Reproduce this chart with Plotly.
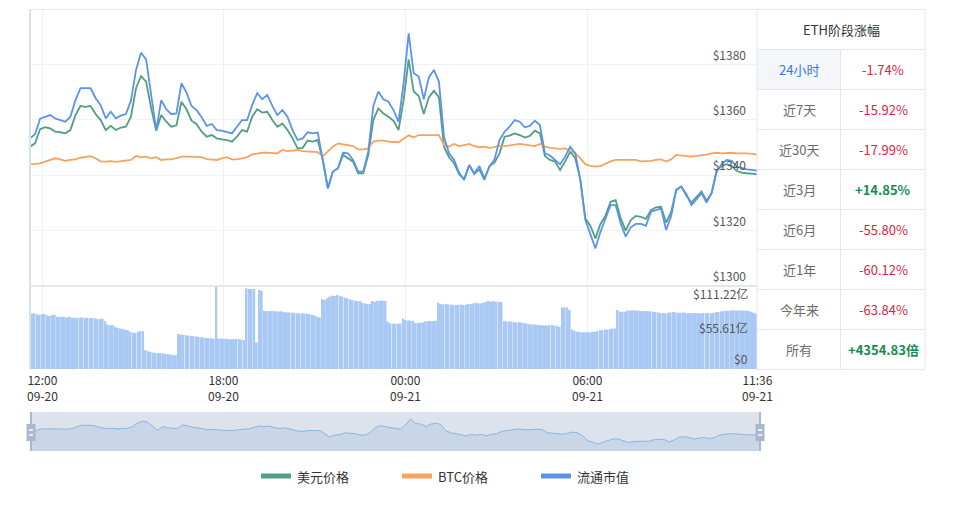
import plotly.graph_objects as go
import pandas as pd

# ---------------- data ----------------
line_start = "2022-09-20 11:36"      # 10-minute samples
usd_price = [
    1350.3, 1351.5, 1356.6, 1357.3, 1356.9, 1355.7, 1355.5, 1355.1, 1356.3, 1361.7,
    1365.0, 1364.7, 1365.0, 1362.1, 1359.9, 1356.3, 1357.8, 1356.3, 1357.2, 1357.5,
    1361.1, 1371.4, 1375.8, 1373.8, 1364.1, 1356.1, 1361.7, 1359.3, 1357.5, 1358.0,
    1366.5, 1363.8, 1359.7, 1358.4, 1355.7, 1353.9, 1354.5, 1353.3, 1352.9, 1352.7,
    1352.1, 1353.9, 1356.3, 1355.7, 1361.1, 1363.8, 1362.6, 1362.9, 1359.9, 1357.5,
    1358.7, 1356.3, 1353.3, 1349.7, 1349.9, 1352.5, 1352.1, 1352.7, 1345.5, 1335.3,
    1341.3, 1342.5, 1347.3, 1346.1, 1344.9, 1340.7, 1340.7, 1347.3, 1359.9, 1364.1,
    1362.3, 1361.1, 1359.6, 1356.3, 1367.1, 1381.8, 1370.2, 1368.6, 1362.1, 1368.1,
    1370.5, 1368.1, 1350.3, 1346.5, 1344.3, 1340.4, 1338.7, 1343.7, 1340.4, 1342.1,
    1338.3, 1343.3, 1344.5, 1347.9, 1353.9, 1354.3, 1355.1, 1354.5, 1353.6, 1354.2,
    1356.1, 1355.1, 1346.9, 1345.5, 1344.9, 1341.9, 1344.9, 1348.5, 1346.1, 1338.5,
    1324.4, 1321.7, 1317.2, 1322.4, 1325.4, 1330.4, 1331.0, 1324.4, 1320.0, 1323.8,
    1325.3, 1325.0, 1324.2, 1327.4, 1328.4, 1328.6, 1322.9, 1326.8, 1334.7, 1335.9,
    1332.7, 1330.1, 1332.3, 1334.1, 1330.8, 1333.5, 1341.6, 1343.3, 1344.0, 1343.3,
    1341.5, 1340.9, 1340.7, 1340.6, 1340.4,
]
btc_price = [
    1343.9, 1344.0, 1344.3, 1344.9, 1345.5, 1346.1, 1345.7, 1345.2, 1345.5, 1345.7,
    1346.3, 1346.7, 1346.9, 1346.1, 1345.0, 1344.9, 1345.1, 1344.8, 1345.0, 1345.2,
    1345.5, 1346.9, 1346.5, 1346.7, 1346.1, 1346.5, 1345.5, 1345.7, 1345.7, 1346.2,
    1346.7, 1346.7, 1346.7, 1346.7, 1346.5, 1345.8, 1345.7, 1345.5, 1346.1, 1346.5,
    1345.7, 1345.7, 1346.1, 1346.5, 1347.5, 1347.9, 1348.1, 1348.1, 1348.1, 1347.9,
    1349.1, 1348.7, 1348.9, 1349.1, 1348.7, 1348.5, 1348.5, 1348.3, 1346.9, 1348.5,
    1350.3, 1351.5, 1351.1, 1350.9, 1350.5, 1349.3, 1349.3, 1349.7, 1352.1, 1352.5,
    1352.5, 1352.1, 1352.0, 1351.9, 1353.2, 1354.4, 1353.7, 1354.5, 1354.5, 1354.5,
    1354.5, 1354.5, 1350.9, 1350.3, 1351.3, 1350.5, 1350.9, 1351.3, 1350.5, 1350.1,
    1350.3, 1349.9, 1350.1, 1350.7, 1350.5, 1350.8, 1351.1, 1351.3, 1351.0, 1350.8,
    1350.5, 1351.3, 1350.3, 1349.9, 1349.6, 1349.5, 1349.7, 1348.9, 1347.9, 1346.1,
    1344.0, 1343.4, 1343.1, 1343.3, 1344.3, 1345.0, 1345.5, 1345.5, 1345.5, 1345.6,
    1345.5, 1345.0, 1345.0, 1345.2, 1345.5, 1345.7, 1344.9, 1345.7, 1347.3, 1347.2,
    1346.9, 1346.7, 1346.9, 1347.2, 1347.4, 1347.9, 1348.1, 1347.9, 1348.0, 1348.1,
    1347.9, 1348.0, 1347.9, 1347.7, 1347.4,
]
market_cap = [
    1353.3, 1354.8, 1360.4, 1361.1, 1361.7, 1360.5, 1359.9, 1359.3, 1361.1, 1367.1,
    1371.4, 1371.4, 1371.4, 1367.8, 1365.3, 1360.5, 1362.9, 1360.5, 1361.5, 1362.1,
    1366.9, 1378.0, 1384.2, 1381.8, 1369.0, 1356.3, 1367.1, 1363.8, 1362.0, 1362.3,
    1373.2, 1369.8, 1365.0, 1363.5, 1360.9, 1357.8, 1358.5, 1356.3, 1356.1, 1355.7,
    1355.1, 1357.5, 1359.9, 1359.9, 1365.3, 1369.6, 1367.4, 1369.0, 1365.0, 1361.7,
    1363.5, 1361.1, 1356.3, 1352.7, 1353.3, 1355.5, 1355.1, 1355.4, 1345.5, 1335.3,
    1341.3, 1342.5, 1348.1, 1347.9, 1345.5, 1341.3, 1341.3, 1348.5, 1365.0, 1370.2,
    1367.4, 1366.5, 1363.5, 1359.3, 1373.2, 1391.2, 1376.8, 1375.6, 1367.4, 1375.3,
    1378.0, 1373.8, 1353.9, 1347.9, 1345.5, 1340.9, 1338.3, 1343.7, 1340.7, 1343.3,
    1338.9, 1343.1, 1345.7, 1352.7, 1355.7, 1357.5, 1359.9, 1359.3, 1357.3, 1357.8,
    1359.7, 1358.1, 1347.9, 1347.1, 1345.5, 1343.9, 1346.7, 1350.3, 1347.9, 1338.3,
    1323.8, 1318.8, 1313.6, 1319.6, 1324.4, 1329.2, 1329.2, 1322.6, 1317.8, 1321.2,
    1322.4, 1322.4, 1321.7, 1326.8, 1327.4, 1328.0, 1320.2, 1325.3, 1334.7, 1335.9,
    1333.2, 1329.2, 1331.3, 1333.5, 1330.1, 1333.5, 1341.2, 1344.0, 1345.5, 1345.2,
    1343.1, 1342.5, 1342.1, 1341.9, 1341.6,
]

bar_start = "2022-09-20 11:40"       # 5-minute samples
volume_yi = [
    74.5, 74.5, 73.6, 72.7, 73.6, 73.6, 71.8, 71.4, 72.3, 72.3,
    70.0, 70.0, 70.0, 69.6, 69.1, 70.0, 68.6, 68.6, 68.6, 69.1,
    69.1, 68.6, 68.6, 68.2, 68.2, 67.7, 66.8, 66.8, 67.3,
    64.2, 59.7, 58.8, 58.8, 56.5, 55.2, 54.3, 53.8, 52.9, 52.0, 49.8, 48.9, 48.5, 49.8, 50.7, 50.7,
    25.2, 23.8, 22.9, 22.0, 21.6, 21.6, 21.1, 20.7, 20.2, 19.8, 19.3, 18.9, 18.4,
    46.7, 46.2, 45.8, 45.3, 44.9, 44.4, 44.0, 43.5, 43.1, 42.6, 42.2, 41.7, 41.3, 41.3, 40.8,
    111.22,
    40.8, 40.8, 40.4, 40.4, 39.9, 39.9, 39.9, 40.4, 39.9, 39.5, 38.6,
    108.1, 107.2, 107.2, 107.2,
    35.5,
    105.8, 104.9,
    78.1, 77.6, 77.6, 77.6, 77.6, 77.2, 77.2, 77.2, 76.3, 75.8, 75.8, 75.4, 75.4, 74.9, 74.5, 74.5,
    74.5, 74.0, 73.6, 72.7, 71.8, 70.0, 69.1,
    93.8, 92.4, 94.7, 96.9, 98.3, 97.8, 99.1, 97.8, 96.9, 95.6, 94.7, 93.3, 92.4, 91.1, 91.1, 91.1,
    88.8, 87.9, 87.0, 87.0, 91.1, 90.2, 91.1, 91.5, 91.5, 91.1,
    63.3, 61.0, 60.6, 61.0, 60.6, 61.0,
    67.7, 65.5, 65.0, 65.0, 64.6, 61.9, 61.9, 61.9, 62.4, 63.7, 64.2, 64.2, 64.2, 64.6,
    88.8, 87.0, 86.6, 87.0, 86.6, 86.1, 86.1, 85.7, 86.1, 86.6, 85.7, 86.1, 87.0, 87.0, 87.9, 88.8,
    87.9, 87.9, 88.8, 90.2, 91.1, 90.2, 90.6, 90.2, 90.2, 89.7,
    64.2, 63.7, 63.7, 63.7, 62.8, 62.4, 62.8, 62.4, 61.5, 61.0, 60.1, 59.7, 59.7, 59.2, 58.8, 58.8,
    58.3, 58.3, 58.8, 58.8, 58.3, 57.9, 56.5,
    82.6, 82.6, 82.6, 79.0,
    52.9, 51.1, 49.8, 49.8, 48.9, 49.4, 49.4, 48.9, 49.8, 49.8, 50.7, 52.0, 52.0, 52.9, 52.9, 53.4, 54.3, 54.3,
    79.0, 76.7, 76.7, 76.7, 78.1, 78.5, 78.5, 78.5, 78.1, 78.1, 77.6, 77.6, 77.6, 77.2, 76.7, 76.3,
    75.8, 74.9, 74.9, 74.5, 75.4, 75.8, 76.3, 75.8, 75.4, 75.4, 75.8, 75.4, 74.9, 74.9, 74.9, 74.9,
    74.9, 74.5, 74.9, 74.9, 74.9, 74.9, 75.4, 76.3, 76.3, 77.2, 77.6, 78.1, 78.1, 78.5, 78.5, 78.5,
    78.5, 78.5, 78.1, 78.1, 77.6, 76.7, 75.4, 74.5,
]

x_range = ["2022-09-20 11:36", "2022-09-21 11:36"]
x_tick_vals = ["2022-09-20 12:00", "2022-09-20 18:00", "2022-09-21 00:00", "2022-09-21 06:00", "2022-09-21 11:36"]
x_tick_text = ["12:00<br>09-20", "18:00<br>09-20", "00:00<br>09-21", "06:00<br>09-21", "11:36<br>09-21"]
price_ticks = [1300, 1320, 1340, 1360, 1380]
price_tick_text = ["$1300", "$1320", "$1340", "$1360", "$1380"]
vol_ticks = [111.22, 55.61, 0]
vol_tick_text = ["$111.22亿", "$55.61亿", "$0"]

table_title = "ETH阶段涨幅"
periods = ["24小时", "近7天", "近30天", "近3月", "近6月", "近1年", "今年来", "所有"]
changes = ["-1.74%", "-15.92%", "-17.99%", "+14.85%", "-55.80%", "-60.12%", "-63.84%", "+4354.83倍"]

series_names = ["美元价格", "BTC价格", "流通市值"]

# ---------------- styling ----------------
# page body has an 8px margin; figure sized so page == 957x505
OFF = 8
W, H = 957 - 2 * OFF, 505 - 2 * OFF
FONT = "Noto Sans CJK SC, Noto Sans, sans-serif"
C_GREEN = "#519f7e"
C_ORANGE = "#f7a35f"
C_BLUE = "#5b93ec"
C_BAR = "#a9c9f4"
C_GRID = "#eef1f6"
C_BORDER = "#e2e6ee"
C_RED = "#e0233f"
C_UP = "#168a52"


def px(x):
    return (x - OFF) / W


def py(y):
    return 1 - (y - OFF) / H


line_t = pd.date_range(line_start, periods=len(usd_price), freq="10min")
bar_t = pd.date_range(bar_start, periods=len(volume_yi), freq="5min")

fig = go.Figure()

fig.add_trace(go.Bar(x=bar_t, y=volume_yi, xaxis="x2", yaxis="y2",
                     marker=dict(color=C_BAR, line=dict(width=0)),
                     hoverinfo="skip", showlegend=False))

fig.add_trace(go.Scatter(x=line_t, y=usd_price, mode="lines", name=series_names[0],
                         line=dict(color=C_GREEN, width=1.8), xaxis="x", yaxis="y", showlegend=False))
fig.add_trace(go.Scatter(x=line_t, y=btc_price, mode="lines", name=series_names[1],
                         line=dict(color=C_ORANGE, width=1.8), xaxis="x", yaxis="y", showlegend=False))
fig.add_trace(go.Scatter(x=line_t, y=market_cap, mode="lines", name=series_names[2],
                         line=dict(color=C_BLUE, width=1.8), xaxis="x", yaxis="y", showlegend=False))

# navigator preview
fig.add_trace(go.Scatter(x=line_t, y=market_cap, mode="lines", fill="tozeroy",
                         fillcolor="rgba(160,190,225,0.35)",
                         line=dict(color="#8ab6df", width=1), xaxis="x3", yaxis="y3",
                         hoverinfo="skip", showlegend=False))

x_dom = [px(30), px(757)]

shapes = []
annotations = []

# navigator background & handles
shapes.append(dict(type="rect", xref="paper", yref="paper", x0=px(31), x1=px(760), y0=py(451), y1=py(412),
                   fillcolor="#dde3ec", line=dict(width=0), layer="below"))
for hx in (31, 760):
    shapes.append(dict(type="line", xref="paper", yref="paper", x0=px(hx), x1=px(hx), y0=py(451), y1=py(412),
                       line=dict(color="#a9b8cc", width=2)))
    shapes.append(dict(type="rect", xref="paper", yref="paper", x0=px(hx - 4.5), x1=px(hx + 4.5),
                       y0=py(441), y1=py(424), fillcolor="#a9b8cc", line=dict(width=0)))
    for yy in (430, 435):
        shapes.append(dict(type="line", xref="paper", yref="paper", x0=px(hx - 2), x1=px(hx + 2),
                           y0=py(yy), y1=py(yy), line=dict(color="white", width=1.5)))

# chart frame
shapes.append(dict(type="line", xref="paper", yref="paper", x0=px(30), x1=px(925), y0=py(9.5), y1=py(9.5),
                   line=dict(color=C_BORDER, width=1)))
shapes.append(dict(type="line", xref="paper", yref="paper", x0=px(30), x1=px(30), y0=py(9), y1=py(369),
                   line=dict(color="#dbe0e9", width=2)))
shapes.append(dict(type="line", xref="paper", yref="paper", x0=px(30), x1=px(757), y0=py(286), y1=py(286),
                   line=dict(color="#e1e6ef", width=2)))

# table
row_edges = [9 + 40 * k for k in range(10)]
shapes.append(dict(type="rect", xref="paper", yref="paper", x0=px(757), x1=px(840.5), y0=py(89), y1=py(49),
                   fillcolor="#f4f6fa", line=dict(width=0), layer="below"))
for ye in row_edges:
    shapes.append(dict(type="line", xref="paper", yref="paper", x0=px(757), x1=px(925), y0=py(ye + 0.5),
                       y1=py(ye + 0.5), line=dict(color=C_BORDER, width=1)))
shapes.append(dict(type="line", xref="paper", yref="paper", x0=px(757), x1=px(757), y0=py(9), y1=py(370),
                   line=dict(color=C_BORDER, width=1)))
shapes.append(dict(type="line", xref="paper", yref="paper", x0=px(840.5), x1=px(840.5), y0=py(49), y1=py(370),
                   line=dict(color=C_BORDER, width=1)))
shapes.append(dict(type="line", xref="paper", yref="paper", x0=px(925), x1=px(925), y0=py(9), y1=py(370),
                   line=dict(color=C_BORDER, width=1)))

annotations.append(dict(xref="paper", yref="paper", x=px(841), y=py(29.5), text=table_title, showarrow=False,
                        font=dict(family=FONT, size=13, color="#333333"), xanchor="center", yanchor="middle"))
for k, (p, c) in enumerate(zip(periods, changes)):
    yc = 69.5 + 40 * k
    annotations.append(dict(xref="paper", yref="paper", x=px(799), y=py(yc), text=p, showarrow=False,
                            font=dict(family=FONT, size=13, color="#2f7be6" if k == 0 else "#6a6a6a"),
                            xanchor="center", yanchor="middle"))
    up = c.startswith("+")
    txt = "<b>%s</b>" % c if up else c
    annotations.append(dict(xref="paper", yref="paper", x=px(883), y=py(yc), text=txt, showarrow=False,
                            font=dict(family=FONT, size=13, color=C_UP if up else C_RED),
                            xanchor="center", yanchor="middle"))

# volume axis labels
vol_label_y = [293, 327, 358]
for t, ypos in zip(vol_tick_text, vol_label_y):
    annotations.append(dict(xref="paper", yref="paper", x=px(750), y=py(ypos), text=t, showarrow=False,
                            font=dict(family=FONT, size=12, color="#555555"), xanchor="right", yanchor="middle"))

# x tick labels (time over date)
for xv, tt in zip(x_tick_vals, x_tick_text):
    annotations.append(dict(xref="x2", yref="paper", x=xv, y=py(387.5), text=tt, showarrow=False,
                            font=dict(family=FONT, size=12, color="#333333"), xanchor="center",
                            yanchor="middle", borderpad=0))

# custom legend
legend_items = [(series_names[0], C_GREEN, 261), (series_names[1], C_ORANGE, 402), (series_names[2], C_BLUE, 541)]
for name, col, lx in legend_items:
    shapes.append(dict(type="rect", xref="paper", yref="paper", x0=px(lx), x1=px(lx + 30), y0=py(478.5),
                       y1=py(473.5), fillcolor=col, line=dict(width=0)))
    annotations.append(dict(xref="paper", yref="paper", x=px(lx + 34), y=py(476), text=name, showarrow=False,
                            font=dict(family=FONT, size=13, color="#333333"), xanchor="left", yanchor="middle"))

fig.update_layout(
    width=W, height=H,
    margin=dict(l=0, r=0, t=0, b=0),
    paper_bgcolor="white", plot_bgcolor="white",
    font=dict(family=FONT, size=12, color="#333333"),
    showlegend=False,
    bargap=0.22,
    xaxis=dict(domain=x_dom, anchor="y", range=x_range, type="date", tickvals=x_tick_vals,
               showticklabels=False, showgrid=True, gridcolor=C_GRID, gridwidth=1, zeroline=False,
               showline=False, ticks=""),
    yaxis=dict(domain=[py(286), py(9)], anchor="x", range=[1300, 1400], side="right",
               tickvals=price_ticks, ticktext=price_tick_text, ticklabelposition="inside",
               ticklabelshift=-9, ticklabelstandoff=8, showgrid=True, gridcolor=C_GRID, zeroline=False,
               showline=False, ticks="", tickfont=dict(family=FONT, size=12, color="#555555")),
    xaxis2=dict(domain=x_dom, anchor="y2", range=x_range, type="date", tickvals=x_tick_vals,
                showticklabels=False, showgrid=True, gridcolor=C_GRID, zeroline=False, showline=False,
                ticks=""),
    yaxis2=dict(domain=[py(369), py(286)], anchor="x2", range=[0, 111.22], showgrid=False,
                showticklabels=False, zeroline=False, showline=False, ticks=""),
    xaxis3=dict(domain=[px(31), px(760)], anchor="y3", range=x_range, type="date", visible=False),
    yaxis3=dict(domain=[py(451), py(412)], anchor="x3", range=[1291.8, 1412.8], visible=False),
    shapes=shapes,
    annotations=annotations,
)

fig.write_html("out.html")
